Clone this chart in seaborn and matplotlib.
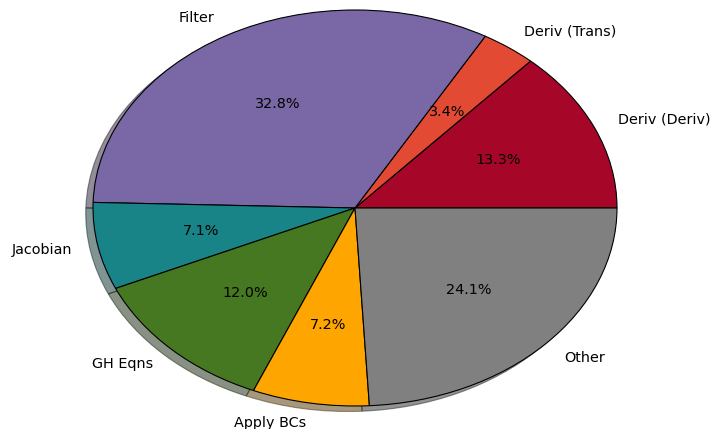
import matplotlib
matplotlib.use("Agg")
import matplotlib.pyplot as plt
import seaborn as sns

labels = ["Deriv (Deriv)", "Deriv (Trans)", "Filter", "Jacobian", "GH Eqns", "Apply BCs", "Other"]
shares = [13.3, 3.4, 32.8, 7.1, 12.0, 7.2, 24.1]
colors = ["#A60628", "#E24A33", "#7A68A6", "#188487", "#467821", "#FFA500", "#808080"]

sns.set_style("white")
plt.rcParams['font.family'] = ['DejaVu Sans']

fig = plt.figure(figsize=(7.13, 4.29), dpi=100)
ax = fig.add_axes([93 / 713, 23 / 429, 524 / 713, 396 / 429])
ax.pie(shares, labels=labels, colors=colors, autopct="%.1f%%", shadow=True,
       startangle=0, wedgeprops={"edgecolor": "black", "linewidth": 0.8},
       textprops={"fontsize": 10.4, "color": "black"})
ax.set_aspect("auto")
ax.set_xlim(-1, 1)
ax.set_ylim(-1, 1)
ax.set_position([93 / 713, 23 / 429, 524 / 713, 396 / 429])
ax.axis("off")

fig.savefig("out.png", dpi=100)
